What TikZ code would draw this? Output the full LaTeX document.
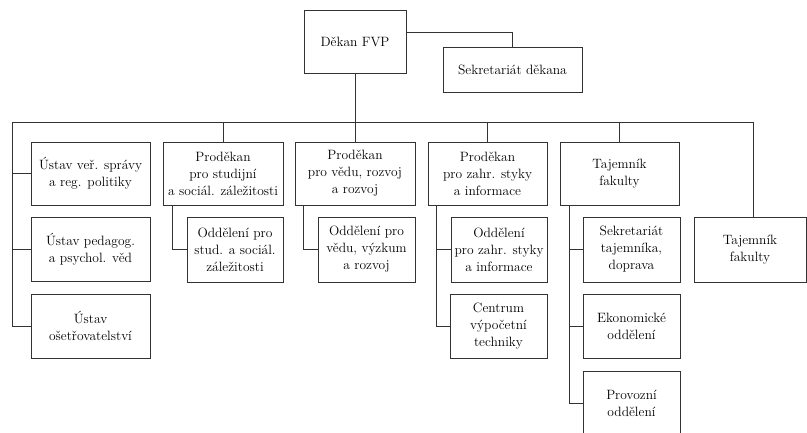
\documentclass[tikz,border=0pt]{standalone}
\usepackage{fontspec}
\begin{document}
\begin{tikzpicture}[x=1pt,y=-1pt,
  box/.style={draw=black!80,line width=0.8pt,rectangle,align=center,inner sep=1pt,
    font=\fontsize{13.5}{17}\selectfont},
  conn/.style={draw=black!80,line width=0.8pt}]
\useasboundingbox (0,0) rectangle (807,433);
\clip (0,0) rectangle (807,433);
\node[box,minimum width=102pt,minimum height=63pt] (dekan) at (355,41.5) {Děkan FVP};
\node[box,minimum width=139pt,minimum height=45pt] (sekd) at (512.5,69.5) {Sekretariát děkana};
\node[box,minimum width=119pt,minimum height=63pt] (u1) at (90.5,173.5) {Ústav veř. správy\\a reg. politiky};
\node[box,minimum width=119pt,minimum height=64pt] (u2) at (90.5,249) {Ústav pedagog.\\a psychol. věd};
\node[box,minimum width=119pt,minimum height=64pt] (u3) at (90.5,326) {Ústav\\ošetřovatelství};
\node[box,minimum width=120pt,minimum height=63pt] (p1) at (223,173.5) {Proděkan\\pro studijní\\a sociál. záležitosti};
\node[box,minimum width=96pt,minimum height=65pt] (o1) at (235,249.5) {Oddělení pro\\stud. a sociál.\\záležitosti};
\node[box,minimum width=120pt,minimum height=63pt] (p2) at (355,173.5) {Proděkan\\pro vědu, rozvoj\\a rozvoj};
\node[box,minimum width=97pt,minimum height=65pt] (o2) at (366.5,249.5) {Oddělení pro\\vědu, výzkum\\a rozvoj};
\node[box,minimum width=119pt,minimum height=63pt] (p3) at (487.5,173.5) {Proděkan\\pro zahr. styky\\a informace};
\node[box,minimum width=96pt,minimum height=65pt] (o3) at (499,249.5) {Oddělení\\pro zahr. styky\\a informace};
\node[box,minimum width=97pt,minimum height=64pt] (c3) at (498.5,326) {Centrum\\výpočetní\\techniky};
\node[box,minimum width=119pt,minimum height=63pt] (t) at (619.5,173.5) {Tajemník\\fakulty};
\node[box,minimum width=97pt,minimum height=65pt] (s1) at (631.5,249.5) {Sekretariát\\tajemníka,\\doprava};
\node[box,minimum width=97pt,minimum height=64pt] (s2) at (631.5,326) {Ekonomické\\oddělení};
\node[box,minimum width=97pt,minimum height=64pt] (s3) at (631.5,403) {Provozní\\oddělení};
\node[box,minimum width=112pt,minimum height=65pt] (tr) at (750,249.5) {Tajemník\\fakulty};
\coordinate (busL) at (12,122);
\coordinate (busR) at (753,122);
\draw[conn] ([yshift=9.5pt]dekan.east) -| (sekd.north);
\draw[conn] (dekan.south) -- (dekan.south |- busL);
\draw[conn] (busL) -- (busR);
\draw[conn] (busL) |- (u3.west);
\draw[conn] (busL |- u1.west) -- (u1.west);
\draw[conn] (busL |- u2.west) -- (u2.west);
\draw[conn] (p1.north |- busL) -- (p1.north);
\draw[conn] (p2.north |- busL) -- (p2.north);
\draw[conn] (p3.north |- busL) -- (p3.north);
\draw[conn] (t.north |- busL) -- (t.north);
\draw[conn] (busR) -- (busR |- tr.north);
\draw[conn] ([xshift=10pt]p1.south west) |- (o1.west);
\draw[conn] ([xshift=9pt]p2.south west) |- (o2.west);
\draw[conn] ([xshift=9pt]p3.south west) coordinate (p3d) |- (c3.west);
\draw[conn] (p3d |- o3.west) -- (o3.west);
\draw[conn] ([xshift=10pt]t.south west) coordinate (td) |- (s3.west);
\draw[conn] (td |- s1.west) -- (s1.west);
\draw[conn] (td |- s2.west) -- (s2.west);
\end{tikzpicture}
\end{document}
